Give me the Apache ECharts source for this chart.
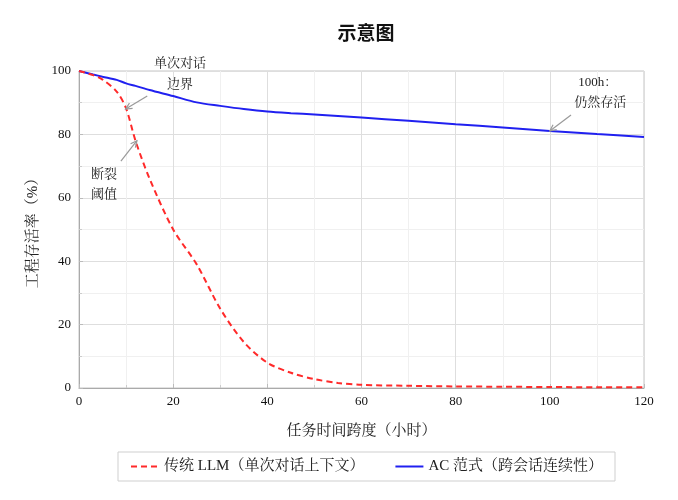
<!DOCTYPE html>
<html><head><meta charset="utf-8">
<script src="https://cdn.jsdelivr.net/npm/echarts@6/dist/echarts.min.js"></script>
<style>html,body{margin:0;padding:0;background:#fff}#c{width:678px;height:500px}</style>
</head><body><div id="c"></div>
<script>
const hours = [0,3,5,8,10,12,15,20,25,30,35,40,45,50,55,60,70,80,90,100,110,120];
const llmSurvival = [100,98.7,97.3,93.5,88.2,78,66,50,39,25,14.5,8,4.8,2.8,1.6,1.0,0.7,0.5,0.4,0.3,0.25,0.2];
const acSurvival = [100,98.9,98.2,97.2,96.1,95.3,94,92.1,90.1,89,88,87.2,86.7,86.3,85.8,85.3,84.3,83.2,82.2,81.1,80.1,79.2];
const xTicks = [0,20,40,60,80,100,120];
const yTicks = [0,20,40,60,80,100];
const seriesNames = ['传统 LLM（单次对话上下文）','AC 范式（跨会话连续性）'];
const titleText = '示意图';
const xName = '任务时间跨度（小时）';
const yName = '工程存活率（%）';
const noteTexts = [['单次对话',21.45,102.2],['边界',21.45,95.6],['断裂',5.3,67.2],['阈值',5.3,60.9],['100h：',110.2,96.2],['仍然存活',110.7,89.9]];
const noteArrows = [[14.5,92.1,9.9,88.0],[8.9,71.6,12.3,78.0],[104.5,86.1,100,81.1]];

const serif = '"Liberation Serif","Noto Serif CJK SC","Noto Sans CJK SC",serif';
const chart = echarts.init(document.getElementById('c'));
chart.setOption({
  animation:false,
  title:{text:titleText,left:361,textAlign:'center',top:18,textStyle:{fontFamily:'"Noto Sans CJK SC",sans-serif',fontWeight:'bold',fontSize:19,color:'#111'}},
  grid:{left:79,right:34,top:71,bottom:112,show:true,borderColor:'#c4c4c4',borderWidth:1},
  legend:{left:118,top:452,width:487,orient:'horizontal',padding:[7,12],borderColor:'#cfcfcf',borderWidth:1,borderRadius:0,itemGap:30,itemWidth:28,itemHeight:10,
    itemStyle:{opacity:0},
    textStyle:{fontFamily:serif,fontSize:15,color:'#222'},data:seriesNames},
  xAxis:{type:'value',min:0,max:120,interval:20,name:xName,nameLocation:'middle',nameGap:36,
    nameTextStyle:{fontFamily:serif,fontSize:15,color:'#222'},
    axisLine:{lineStyle:{color:'#aaa'}},axisTick:{inside:true,length:4,lineStyle:{color:'#bbb'}},
    minorTick:{show:true,splitNumber:2,length:3,lineStyle:{color:'#ccc'}},
    axisLabel:{fontFamily:serif,fontSize:13,color:'#111',margin:7,formatter:v=>xTicks.includes(v)?String(v):''},
    splitLine:{show:true,lineStyle:{color:'#dedede'}},minorSplitLine:{show:true,lineStyle:{color:'#f0f0f0'}}},
  yAxis:{type:'value',min:0,max:100,interval:20,name:yName,nameLocation:'middle',nameGap:38,nameRotate:90,
    nameTextStyle:{fontFamily:serif,fontSize:15,color:'#222'},
    axisLine:{show:true,lineStyle:{color:'#aaa'}},axisTick:{show:true,inside:true,length:4,lineStyle:{color:'#bbb'}},
    minorTick:{show:true,splitNumber:2,length:3,lineStyle:{color:'#ccc'}},
    axisLabel:{fontFamily:serif,fontSize:13,color:'#111',margin:8,formatter:v=>yTicks.includes(v)?String(v):''},
    splitLine:{show:true,lineStyle:{color:'#dedede'}},minorSplitLine:{show:true,lineStyle:{color:'#f0f0f0'}}},
  series:[
    {name:seriesNames[0],type:'line',data:hours.map((h,i)=>[h,llmSurvival[i]]),smooth:0.3,symbol:'none',
      lineStyle:{color:'#ff2a2a',width:2,type:[6,4]},itemStyle:{color:'#ff2a2a'},z:3},
    {name:seriesNames[1],type:'line',data:hours.map((h,i)=>[h,acSurvival[i]]),smooth:0.3,symbol:'none',
      lineStyle:{color:'#2020f0',width:2},itemStyle:{color:'#2020f0'},z:2}
  ]
});
const g=[];
noteTexts.forEach(([t,x,y])=>{
  const p=chart.convertToPixel({gridIndex:0},[x,y]);
  g.push({type:'text',x:p[0],y:p[1],z:10,style:{text:t,align:'center',verticalAlign:'middle',font:'13px '+serif,fill:'#222'}});
});
noteArrows.forEach(([x1,y1,x2,y2])=>{
  const a=chart.convertToPixel({gridIndex:0},[x1,y1]);
  const b=chart.convertToPixel({gridIndex:0},[x2,y2]);
  const ang=Math.atan2(b[1]-a[1],b[0]-a[0]);
  const L=7,w=0.45;
  const h1=[b[0]-L*Math.cos(ang-w),b[1]-L*Math.sin(ang-w)];
  const h2=[b[0]-L*Math.cos(ang+w),b[1]-L*Math.sin(ang+w)];
  g.push({type:'line',z:10,shape:{x1:a[0],y1:a[1],x2:b[0],y2:b[1]},style:{stroke:'#999',lineWidth:1.2}});
  g.push({type:'polyline',z:10,shape:{points:[h1,b,h2]},style:{stroke:'#999',lineWidth:1.2,fill:null}});
});
chart.setOption({graphic:g});
</script></body></html>
